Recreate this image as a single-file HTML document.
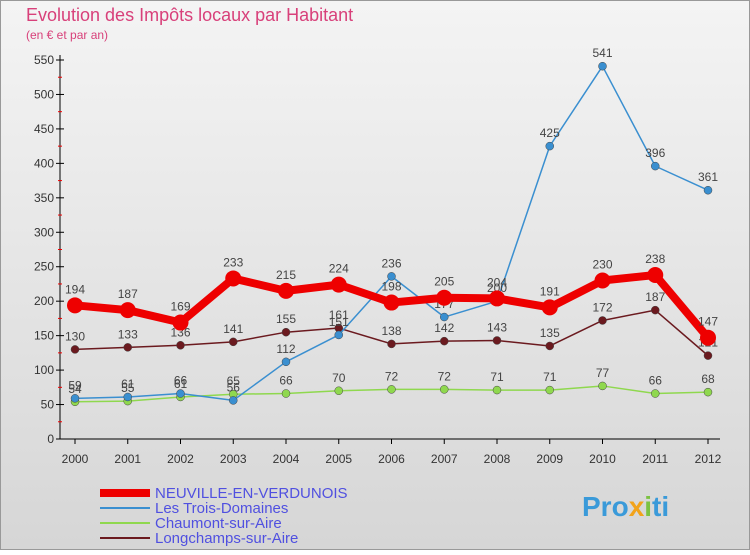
<!DOCTYPE html>
<html><head><meta charset="utf-8"><style>
body{margin:0;}
#c{width:750px;height:550px;position:relative;font-family:"Liberation Sans",sans-serif;}
</style></head><body>
<div id="c">
<svg id="s" width="750" height="550" xmlns="http://www.w3.org/2000/svg">
<defs><linearGradient id="bg" x1="0" y1="0" x2="0" y2="1"><stop offset="0" stop-color="#f4f4f4"/><stop offset="1" stop-color="#d6d6d6"/></linearGradient></defs>
<rect x="0.5" y="0.5" width="749" height="549" fill="url(#bg)" stroke="#999"/>
<text x="26" y="21" font-size="18" fill="#d8407a">Evolution des Impôts locaux par Habitant</text>
<text x="26" y="39" font-size="12" fill="#d8407a">(en € et par an)</text>
<g id="axes"></g><g id="series"></g><g id="legend"></g>
<text x="582" y="516" font-size="28" font-weight="bold" fill="#3a9ad9">Pro<tspan fill="#f2a31a">x</tspan><tspan fill="#7cc242">i</tspan>ti</text>
</svg>
</div>
<script>
const years=["2000","2001","2002","2003","2004","2005","2006","2007","2008","2009","2010","2011","2012"];
const yTicks=[0,50,100,150,200,250,300,350,400,450,500,550];
const neuville=[194,187,169,233,215,224,198,205,204,191,230,238,147];
const troisDomaines=[59,61,66,56,112,151,236,177,200,425,541,396,361];
const chaumont=[54,55,61,65,66,70,72,72,71,71,77,66,68];
const longchamps=[130,133,136,141,155,161,138,142,143,135,172,187,121];
const NS="http://www.w3.org/2000/svg";
function X(i){return 75+i*52.75;}
function Y(v){return 439-v*(379/550);}
function mk(t,a,p){const e=document.createElementNS(NS,t);for(const k in a)e.setAttribute(k,a[k]);p.appendChild(e);return e;}
const ax=document.getElementById('axes');
let l=mk('line',{x1:60,y1:Y(0),x2:60,y2:55,stroke:'#000'},ax);

l=mk('line',{x1:60,y1:Y(0),x2:720,y2:Y(0),stroke:'#000'},ax);

yTicks.forEach(v=>{mk('line',{x1:56,y1:Y(v),x2:64,y2:Y(v),stroke:'#000'},ax);
const t=mk('text',{x:54,y:Y(v)+4,'font-size':12,'text-anchor':'end',fill:'#333'},ax);t.textContent=v;

if(v<550)mk('line',{x1:58,y1:Y(v+25),x2:62,y2:Y(v+25),stroke:'#e00'},ax);});
years.forEach((y,i)=>{mk('line',{x1:X(i),y1:Y(0),x2:X(i),y2:Y(0)+5,stroke:'#000'},ax);
const t=mk('text',{x:X(i),y:Y(0)+24,'font-size':12,'text-anchor':'middle',fill:'#333'},ax);t.textContent=y;
});
const S=[{n:'Longchamps-sur-Aire',d:longchamps,c:'#6b1a1f',w:1.5,r:4},
{n:'Chaumont-sur-Aire',d:chaumont,c:'#8fd84e',w:1.5,r:4},
{n:'Les Trois-Domaines',d:troisDomaines,c:'#3a8fd0',w:1.5,r:4},
{n:'NEUVILLE-EN-VERDUNOIS',d:neuville,c:'#ee0000',w:8,r:8}];
const sg=document.getElementById('series');
S.forEach(s=>{const g=mk('g',{},sg);
const p=mk('polyline',{points:s.d.map((v,i)=>X(i)+','+Y(v)).join(' '),fill:'none',stroke:s.c,'stroke-width':s.w,'stroke-linejoin':'round'},g);

s.d.forEach((v,i)=>{const c=mk('circle',{cx:X(i),cy:Y(v),r:s.r,fill:s.c,stroke:s.w>2?'none':'#444','stroke-width':0.5},g);

const t=mk('text',{x:X(i),y:Y(v)-(s.w>2?12:9),'font-size':12,'text-anchor':'middle',fill:'#444'},g);t.textContent=v;
});});
const lg=document.getElementById('legend');
[S[3],S[2],S[1],S[0]].forEach((s,k)=>{const y=493+k*15;
const g=mk('g',{},lg);
mk('line',{x1:100,y1:y,x2:150,y2:y,stroke:s.c,'stroke-width':s.w>2?8:2},g);
const t=mk('text',{x:155,y:y+5,'font-size':15,fill:'#5050e0'},g);t.textContent=s.n;});
</script>
</body></html>
